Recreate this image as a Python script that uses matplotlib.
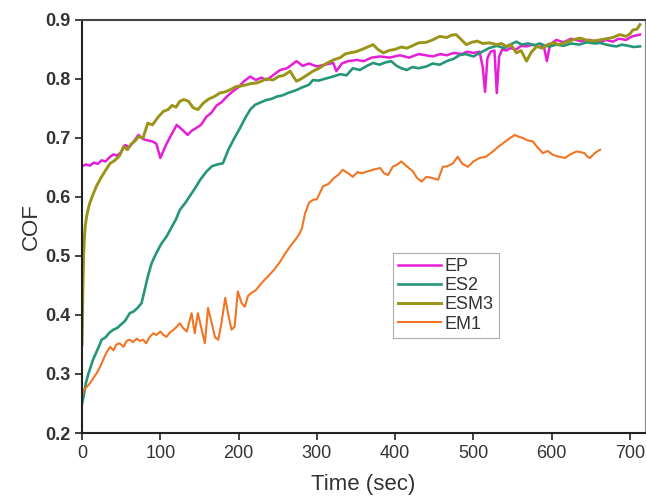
import numpy as np
import matplotlib.pyplot as plt

plt.rcParams['font.family'] = ['Liberation Sans', 'DejaVu Sans']

# values (time in sec, COF)
ep_t = [0, 5, 10, 15, 20, 25, 30, 35, 40, 45, 50, 55, 60, 65, 72, 78, 83, 90, 95, 100,
        104, 108, 114, 121, 128, 135, 140, 145, 152, 159, 165, 172, 178, 185, 192, 200,
        207, 215, 222, 229, 236, 244, 253, 262, 274, 282, 290, 300, 310, 321, 325, 332,
        340, 351, 360, 370, 381, 393, 406, 418, 430, 448, 458, 466, 475, 485, 492, 500,
        508, 512, 515, 518, 522, 527, 530, 533, 537, 542, 547, 555, 561, 568, 576, 584,
        590, 594, 598, 606, 615, 625, 637, 649, 660, 670, 678, 686, 695, 703, 713]
ep_v = [0.652, 0.655, 0.653, 0.658, 0.656, 0.662, 0.660, 0.667, 0.672, 0.670, 0.676, 0.688,
        0.684, 0.692, 0.705, 0.698, 0.696, 0.694, 0.690, 0.666, 0.678, 0.690, 0.705, 0.722,
        0.714, 0.705, 0.712, 0.716, 0.722, 0.736, 0.742, 0.755, 0.760, 0.770, 0.778, 0.786,
        0.796, 0.804, 0.798, 0.802, 0.798, 0.806, 0.815, 0.818, 0.830, 0.822, 0.826, 0.821,
        0.824, 0.827, 0.813, 0.826, 0.830, 0.832, 0.830, 0.836, 0.838, 0.836, 0.840, 0.836,
        0.842, 0.838, 0.842, 0.840, 0.844, 0.842, 0.846, 0.844, 0.846, 0.820, 0.778, 0.835,
        0.846, 0.848, 0.776, 0.838, 0.850, 0.848, 0.852, 0.850, 0.856, 0.855, 0.858, 0.854,
        0.856, 0.830, 0.858, 0.866, 0.862, 0.868, 0.864, 0.866, 0.862, 0.866, 0.863, 0.868,
        0.866, 0.872, 0.875]

es2_t = [0, 2, 5, 8, 11, 14, 18, 22, 25, 30, 35, 40, 45, 50, 55, 61, 66, 71, 76, 80, 84,
         89, 95, 101, 108, 115, 120, 125, 132, 138, 145, 151, 159, 166, 173, 180, 187,
         194, 202, 209, 215, 221, 228, 235, 242, 249, 256, 263, 274, 282, 290, 295, 302,
         310, 321, 330, 338, 346, 355, 364, 372, 380, 388, 395, 402, 408, 415, 422, 430,
         440, 448, 457, 466, 475, 482, 490, 500, 510, 520, 530, 540, 547, 555, 562, 570,
         578, 585, 592, 598, 606, 615, 625, 635, 645, 655, 662, 670, 677, 683, 690, 698,
         705, 713]
es2_v = [0.250, 0.262, 0.285, 0.300, 0.312, 0.324, 0.336, 0.348, 0.358, 0.362, 0.370, 0.375,
         0.378, 0.384, 0.390, 0.403, 0.406, 0.412, 0.420, 0.442, 0.465, 0.488, 0.505, 0.520,
         0.533, 0.550, 0.562, 0.578, 0.590, 0.602, 0.616, 0.629, 0.643, 0.652, 0.655, 0.657,
         0.680, 0.698, 0.717, 0.735, 0.748, 0.756, 0.760, 0.764, 0.766, 0.770, 0.772, 0.776,
         0.781, 0.786, 0.790, 0.798, 0.797, 0.800, 0.804, 0.808, 0.806, 0.818, 0.815, 0.822,
         0.827, 0.824, 0.828, 0.830, 0.822, 0.818, 0.815, 0.820, 0.818, 0.821, 0.826, 0.824,
         0.830, 0.834, 0.840, 0.842, 0.838, 0.845, 0.852, 0.856, 0.852, 0.858, 0.863, 0.858,
         0.860, 0.857, 0.860, 0.856, 0.855, 0.858, 0.856, 0.860, 0.858, 0.862, 0.860, 0.861,
         0.858, 0.856, 0.855, 0.858, 0.856, 0.854, 0.855]

esm3_t = [0, 1, 2, 3, 4, 6, 8, 10, 14, 18, 24, 30, 36, 42, 48, 53, 58, 63, 68, 72, 78, 84,
          90, 97, 104, 110, 115, 120, 125, 130, 136, 142, 148, 155, 162, 169, 176, 183,
          190, 197, 204, 210, 216, 223, 229, 236, 244, 251, 258, 266, 270, 274, 280, 287,
          295, 303, 312, 321, 330, 336, 342, 350, 358, 365, 372, 378, 385, 392, 400, 408,
          415, 422, 430, 440, 448, 457, 466, 472, 478, 485, 491, 498, 505, 512, 521, 530,
          536, 542, 548, 555, 561, 568, 574, 581, 588, 595, 602, 610, 618, 627, 636, 644,
          652, 662, 670, 678, 687, 695, 700, 704, 709, 713]
esm3_v = [0.350, 0.440, 0.500, 0.530, 0.550, 0.568, 0.580, 0.590, 0.604, 0.617, 0.632,
          0.645, 0.657, 0.662, 0.670, 0.685, 0.680, 0.690, 0.695, 0.702, 0.700, 0.725,
          0.722, 0.735, 0.745, 0.748, 0.755, 0.752, 0.762, 0.765, 0.762, 0.751, 0.748,
          0.759, 0.766, 0.770, 0.776, 0.778, 0.782, 0.787, 0.788, 0.790, 0.792, 0.793,
          0.796, 0.800, 0.798, 0.804, 0.806, 0.813, 0.804, 0.796, 0.800, 0.806, 0.813,
          0.818, 0.826, 0.832, 0.836, 0.842, 0.844, 0.846, 0.850, 0.854, 0.858, 0.850,
          0.844, 0.848, 0.850, 0.854, 0.852, 0.856, 0.861, 0.862, 0.866, 0.872, 0.870,
          0.874, 0.875, 0.866, 0.858, 0.862, 0.864, 0.860, 0.861, 0.858, 0.860, 0.855,
          0.858, 0.844, 0.848, 0.830, 0.845, 0.855, 0.852, 0.858, 0.861, 0.858, 0.862,
          0.866, 0.869, 0.866, 0.864, 0.866, 0.868, 0.870, 0.875, 0.872, 0.876, 0.883,
          0.884, 0.892]

em1_t = [0, 2, 6, 10, 15, 19, 23, 27, 31, 36, 40, 44, 48, 53, 57, 61, 65, 70, 74, 78, 82,
         86, 91, 95, 100, 104, 108, 112, 117, 121, 125, 129, 134, 137, 140, 144, 148, 152,
         157, 161, 165, 170, 174, 178, 183, 187, 191, 195, 199, 204, 208, 212, 216, 222,
         230, 238, 245, 253, 260, 267, 274, 278, 281, 285, 290, 295, 300, 308, 315, 322,
         328, 333, 340, 346, 352, 358, 364, 372, 381, 386, 391, 397, 403, 408, 415, 423,
         428, 434, 440, 448, 455, 461, 467, 474, 480, 486, 493, 500, 508, 516, 525, 531,
         538, 545, 553, 558, 563, 569, 576, 582, 589, 595, 602, 610, 617, 624, 632, 637,
         642, 646, 649, 655, 662]
em1_v = [0.262, 0.273, 0.278, 0.284, 0.294, 0.302, 0.312, 0.324, 0.336, 0.346, 0.340,
         0.350, 0.352, 0.346, 0.356, 0.358, 0.354, 0.360, 0.356, 0.358, 0.352, 0.362,
         0.369, 0.366, 0.372, 0.366, 0.363, 0.370, 0.375, 0.380, 0.386, 0.378, 0.372,
         0.388, 0.403, 0.369, 0.403, 0.380, 0.352, 0.412, 0.390, 0.362, 0.358, 0.385,
         0.429, 0.400, 0.375, 0.380, 0.440, 0.420, 0.414, 0.432, 0.437, 0.442, 0.455,
         0.466, 0.476, 0.490, 0.505, 0.518, 0.530, 0.538, 0.547, 0.572, 0.590, 0.595,
         0.596, 0.618, 0.622, 0.632, 0.638, 0.646, 0.640, 0.634, 0.642, 0.640, 0.643,
         0.646, 0.649, 0.640, 0.637, 0.651, 0.655, 0.660, 0.652, 0.643, 0.632, 0.626,
         0.634, 0.632, 0.629, 0.651, 0.652, 0.657, 0.668, 0.656, 0.651, 0.660, 0.666,
         0.668, 0.677, 0.684, 0.691, 0.698, 0.705, 0.702, 0.700, 0.696, 0.694, 0.684,
         0.674, 0.678, 0.671, 0.668, 0.666, 0.672, 0.677, 0.676, 0.674, 0.668, 0.666,
         0.674, 0.680]

fig, ax = plt.subplots(figsize=(6.46, 4.96), dpi=100)
fig.subplots_adjust(left=0.127, right=0.998, top=0.96, bottom=0.127)

ax.plot(ep_t, ep_v, color='#e61ed8', lw=1.8, label='EP')
ax.plot(es2_t, es2_v, color='#26967a', lw=1.9, label='ES2')
ax.plot(esm3_t, esm3_v, color='#9a9418', lw=2.1, label='ESM3')
ax.plot(em1_t, em1_v, color='#f27523', lw=1.5, label='EM1')

ax.set_xlim(0, 719)
ax.set_ylim(0.2, 0.9)
ax.set_xticks(np.arange(0, 701, 100))
ax.set_yticks(np.arange(0.2, 0.91, 0.1))
ax.set_yticklabels(['%.1f' % v for v in np.arange(0.2, 0.91, 0.1)])
ax.tick_params(direction='out', length=5, width=1.3, colors='#333333', labelsize=13)
for lab in ax.get_yticklabels():
    lab.set_fontweight('bold')

for side in ['left', 'bottom']:
    ax.spines[side].set_linewidth(1.5)
    ax.spines[side].set_color('#222222')
ax.spines['top'].set_linewidth(1.5)
ax.spines['top'].set_color('#444444')
ax.spines['right'].set_linewidth(0.8)
ax.spines['right'].set_color('#888888')

ax.set_xlabel('Time (sec)', fontsize=16, color='#333333', labelpad=9)
ax.set_ylabel('COF', fontsize=16, color='#333333', labelpad=2)

leg = ax.legend(loc='lower left', bbox_to_anchor=(0.552, 0.23), borderaxespad=0,
                fontsize=13, frameon=True, fancybox=False, handlelength=2.4,
                handletextpad=0.2, borderpad=0.3, labelspacing=0.12)
leg.get_frame().set_edgecolor('#999999')
leg.get_frame().set_linewidth(0.8)
for txt in leg.get_texts():
    txt.set_color('#333333')

fig.savefig('out.png', dpi=100)
